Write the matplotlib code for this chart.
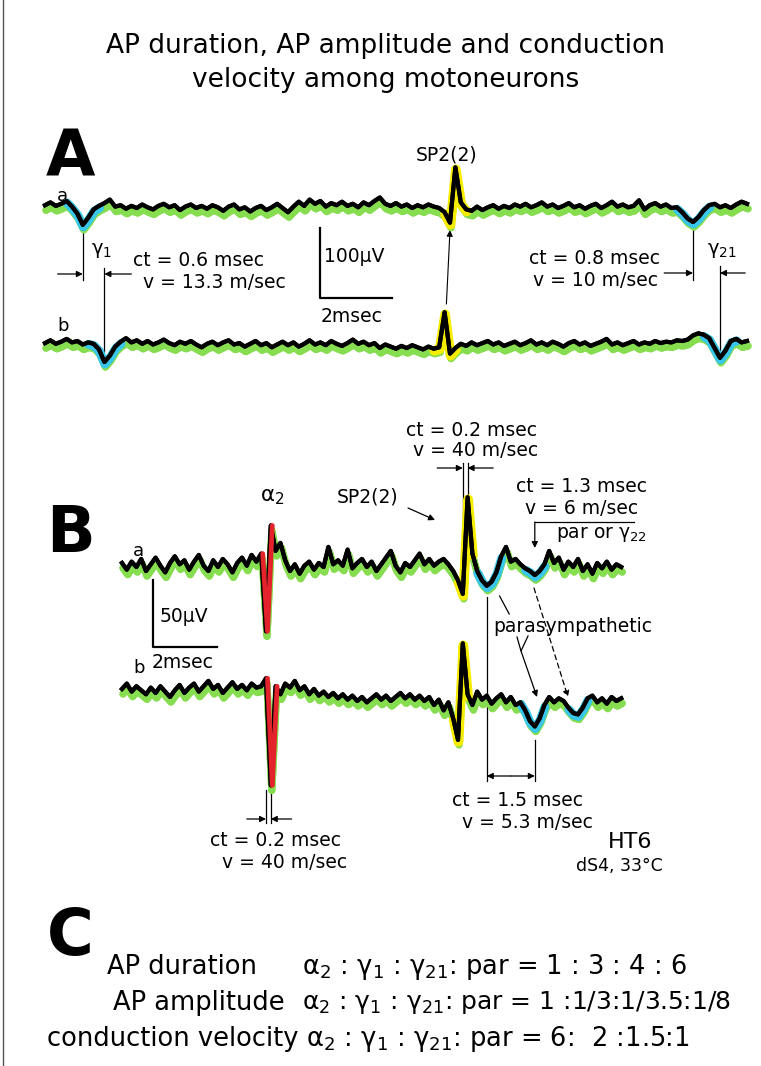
import matplotlib
matplotlib.use("Agg")
import matplotlib.pyplot as plt
import matplotlib.transforms as mtransforms
import numpy as np

W, H = 761, 1066

# ---------------- data ----------------
# panel A: one sample every 0.15 ms, values in uV relative to the trace baseline
a_step = 0.15
A_trace_a = [4, 8, 3, 6, 10, 2, -8, -24, -14, -2,
             3, 7, 12, 2, 4, -1, 3, 0, 5, 1,
             -2, 3, 6, 1, 4, -3, 2, 5, 0, 3,
             -1, 4, 1, -4, 2, 5, -2, 1, -5, 0,
             3, -3, 1, 6, 0, -6, 2, 9, 3, 12,
             6, 10, 2, 7, 4, 9, 3, 6, 1, 8,
             4, 10, 15, 6, 3, 7, 2, 5, 0, 4,
             1, 5, 2, 0, -6, -21, 58, 8, -2, -4,
             2, -3, 1, 4, -1, 3, 0, 5, 2, 6,
             1, 4, 8, 2, 5, 0, 3, 7, 1, 4,
             -1, 3, 6, 0, 4, 9, 2, 5, 1, 3,
             11, -2, 4, 7, 2, 5, 0, 1, -6, -15,
             -20, -13, -3, 4, 6, 1, 4, 0, 5, 9,
             6]
A_trace_b = [3, 7, 2, 5, 9, 4, 6, 1, 4, 2,
             -6, -24, -15, -2, 5, 10, 4, 7, 2, 6,
             1, 4, 8, 3, 0, 5, 2, 6, 1, -3,
             2, 5, 0, 4, 7, 1, 3, -2, 2, 6,
             0, 3, -3, 1, 5, 0, 4, -2, 2, 7,
             1, 4, 0, 6, 2, -1, 3, 8, 2, 5,
             0, 3, -4, 1, -2, -5, -1, -4, 0, -3,
             -6, -2, -5, -3, 47, -12, -4, 2, -1, 4,
             0, 3, 6, 1, 4, -1, 2, 5, 0, 3,
             7, 1, 4, 0, 5, 2, -2, 3, 6, 1,
             4, -1, 2, 5, 9, 1, 4, 0, 3, 6,
             1, 4, 2, 6, 3, 5, 4, 7, 6, 8,
             14, 17, 15, 10, -4, -18, -8, 6, 9, 4,
             6]
# time windows (ms) of the coloured potentials in panel A
A_cyan_a = [(0.6, 1.5), (17.55, 18.45)]
A_cyan_b = [(1.2, 2.1), (18.3, 19.2)]
A_yellow_a = [(11.1, 11.7)]
A_yellow_b = [(10.8, 11.4)]
A_gamma1 = [1.05, 1.65]     # trough times in a and b (ms)
A_gamma21 = [18.0, 18.75]
A_sp2 = [11.4, 11.1]        # spike peak times in a and b

# panel B: one sample every 0.15 ms
b_step = 0.15
B_trace_a = [3, -2, 4, 0, 6, -3, 2, 7, 1, -4,
             3, 8, 2, 5, -2, 4, 9, 1, -3, 5,
             0, 6, 2, -4, 3, 7, 1, 9, 4, 10,
             -48, 31, 12, 18, 5, -3, 2, -5, 1, 4,
             -2, 3, 0, 15, 2, 5, 1, 13, -1, 3,
             6, 0, 4, -3, 2, 7, 12, 1, -4, 3,
             0, 5, 10, 2, 6, 1, 4, 6, 2, -3,
             -10, -20, 52, 10, -3, -10, -14, -11, -4, 8,
             15, 4, 6, 2, -1, -3, -6, -3, 2, 12,
             3, 7, -2, 4, 0, 6, -3, 2, -5, 3,
             -1, 4, -2, 2, 0]
B_trace_b = [2, 6, 0, 4, 1, -2, 3, -1, 4, 0,
             -4, 1, 5, -1, 3, 6, 0, 4, 8, 2,
             5, -1, 3, 7, 2, 5, 1, 6, 3, 4,
             10, -70, 4, -2, 6, 3, 8, 1, 4, -2,
             2, -3, 0, -4, -1, -5, -2, -6, -3, -7,
             -4, -8, -5, -2, -6, -3, -7, -4, -1, -5,
             -2, -6, -3, -7, -4, -10, -6, -14, -8, -20,
             -36, 36, -2, -10, 0, -6, -3, -9, -5, -2,
             -8, -4, -10, -8, -14, -22, -26, -20, -10, -4,
             -8, -5, -7, -12, -16, -17, -12, -5, -3, -8,
             -5, -9, -4, -7, -5]
B_red_a = [(4.35, 4.65)]
B_red_b = [(4.5, 4.8)]
B_yellow_a = [(10.5, 10.95)]
B_yellow_b = [(10.35, 10.8)]
B_cyan_a = [(11.1, 11.85), (12.6, 13.2)]
B_cyan_b = [(12.45, 13.2), (13.95, 14.55)]
B_alpha2 = [4.5, 4.65]      # troughs in a and b
B_sp2 = [10.8, 10.65]       # peaks in a and b
B_par1 = [11.4, 12.9]
B_par2 = [12.9, 14.25]

GREEN = "#86dd4f"
CYAN = "#38c6ea"
YELLOW = "#f6ec00"
RED = "#e3222b"
FONT = "DejaVu Sans"

fig = plt.figure(figsize=(W / 100, H / 100), dpi=100)
fig.patch.set_facecolor("white")

# overlay axes in pixel units for the lettering
ov = fig.add_axes([0, 0, 1, 1])
ov.set_xlim(0, W)
ov.set_ylim(H, 0)
ov.axis("off")


def panel_axes(x0, y0, ms_px, uv_px, top, bottom):
    # axes spanning the figure width, t=0 at pixel x0, 0 uV at pixel y0
    ax = fig.add_axes([0, 1 - bottom / H, 1, (bottom - top) / H])
    ax.set_xlim(-x0 / ms_px, (W - x0) / ms_px)
    ax.set_ylim((y0 - bottom) / uv_px, (y0 - top) / uv_px)
    ax.axis("off")
    ax.patch.set_alpha(0)
    return ax


def draw_trace(ax, step, vals, offset, hl, hl_color, red=None, hl_lw=6.5):
    t = np.arange(len(vals)) * step
    v = np.array(vals, dtype=float) + offset
    shadow = mtransforms.offset_copy(ax.transData, fig=fig, x=1, y=-5, units="dots")
    ax.plot(t, v, color=GREEN, lw=5.2, transform=shadow, solid_capstyle="round", zorder=1)
    low = mtransforms.offset_copy(ax.transData, fig=fig, x=0.5, y=-2, units="dots")
    for lo, hi in hl:
        m = (t >= lo - 1e-9) & (t <= hi + 1e-9)
        ax.plot(t[m], v[m], color=hl_color, lw=hl_lw, transform=low,
                solid_capstyle="round", solid_joinstyle="round", zorder=2)
    ax.plot(t, v, color="black", lw=3.0, solid_joinstyle="round", zorder=3)
    if red:
        rt = mtransforms.offset_copy(ax.transData, fig=fig, x=1.5, y=0, units="dots")
        for lo, hi in red:
            m = (t >= lo - 1e-9) & (t <= hi + 1e-9)
            ax.plot(t[m], v[m], color=RED, lw=3.4, transform=rt,
                    solid_capstyle="round", zorder=4)
    return t, v


def txt(x, y, s, size=13.5, ha="left", **kw):
    ov.text(x, y, s, fontsize=size, ha=ha, va="center", family=FONT, **kw)


def arrow(x1, y1, x2, y2, trans=None, ls="-", lw=0.9):
    ov.annotate("", xy=(x2, y2), xytext=(x1, y1),
                xycoords=trans or ov.transData, textcoords=trans or ov.transData,
                arrowprops=dict(arrowstyle="-|>", lw=lw, color="black", ls=ls,
                                mutation_scale=9, shrinkA=0, shrinkB=0))


def line(xs, ys, trans=None, lw=0.9, ls="-"):
    ov.plot(xs, ys, color="black", lw=lw, ls=ls, transform=trans or ov.transData)


# ---------------- title ----------------
txt(386, 46, "AP duration, AP amplitude and conduction", size=19, ha="center")
txt(386, 80, "velocity among motoneurons", size=19, ha="center")
ov.plot([2.5, 2.5], [0, H], color="#555555", lw=1)

# ---------------- panel A ----------------
axA = panel_axes(45, 208, 36, 0.7, 120, 400)
A_off_b = -196
draw_trace(axA, a_step, A_trace_a, 0, A_cyan_a, CYAN)
draw_trace(axA, a_step, A_trace_a, 0, A_yellow_a, YELLOW, hl_lw=7)
draw_trace(axA, a_step, A_trace_b, A_off_b, A_cyan_b, CYAN)
draw_trace(axA, a_step, A_trace_b, A_off_b, A_yellow_b, YELLOW, hl_lw=7)
# scale bar 2 ms / 100 uV
axA.plot([7.64, 7.64, 9.64], [-28.6, -128.6, -128.6], color="black", lw=1.6)

ov.text(46, 176, "A", fontsize=46, fontweight="bold", family=FONT, ha="left", va="baseline")
txt(57, 196, "a", size=13)
txt(57, 326, "b", size=13)
txt(447, 155, "SP2(2)", size=13.5, ha="center")
txt(324, 257, "100\u00b5V", size=13.5)
txt(321, 316, "2msec", size=13.5)
txt(91, 251, "\u03b3$_1$", size=14)
txt(133, 260, "ct = 0.6 msec", size=13.5)
txt(143, 282, "v = 13.3 m/sec", size=13.5)
txt(660, 258, "ct = 0.8 msec", size=13.5, ha="right")
txt(658, 280, "v = 10 m/sec", size=13.5, ha="right")
txt(707, 250, "\u03b3$_{21}$", size=14)

trA = mtransforms.blended_transform_factory(axA.transData, ov.transData)
line([A_gamma1[0]] * 2, [230, 280], trA)
line([A_gamma1[1]] * 2, [268, 352], trA)
arrow(A_gamma1[0] - 0.7, 274, A_gamma1[0], 274, trA)
arrow(A_gamma1[1] + 0.75, 274, A_gamma1[1], 274, trA)
line([A_gamma21[0]] * 2, [228, 280], trA)
line([A_gamma21[1]] * 2, [266, 350], trA)
arrow(A_gamma21[0] - 0.8, 273, A_gamma21[0], 273, trA)
arrow(A_gamma21[1] + 0.7, 273, A_gamma21[1], 273, trA)
arrow(A_sp2[1] + 0.05, 304, A_sp2[0] - 0.15, 230, trA, lw=0.8)

# ---------------- panel B ----------------
axB = panel_axes(122, 567, 32, 1.34, 400, 900)
B_off_b = -93
draw_trace(axB, b_step, B_trace_a, 0, B_cyan_a, CYAN, red=B_red_a)
draw_trace(axB, b_step, B_trace_a, 0, B_yellow_a, YELLOW, hl_lw=7)
draw_trace(axB, b_step, B_trace_b, B_off_b, B_cyan_b, CYAN, red=B_red_b)
draw_trace(axB, b_step, B_trace_b, B_off_b, B_yellow_b, YELLOW, hl_lw=7)
# scale bar 2 ms / 50 uV
axB.plot([0.97, 0.97, 2.97], [-9.7, -59.7, -59.7], color="black", lw=1.6)

ov.text(46, 552, "B", fontsize=46, fontweight="bold", family=FONT, ha="left", va="baseline")
txt(133, 551, "a", size=13)
txt(133, 668, "b", size=13)
txt(160, 617, "50\u00b5V", size=13.5)
txt(152, 662, "2msec", size=13.5)
txt(272, 497, "\u03b1$_2$", size=15.5, ha="center")
txt(368, 497, "SP2(2)", size=13.5, ha="center")
arrow(408, 508, 435, 520)
txt(471, 430, "ct = 0.2 msec", size=13.5, ha="center")
txt(476, 451, "v = 40 m/sec", size=13.5, ha="center")
txt(582, 487, "ct = 1.3 msec", size=13.5, ha="center")
txt(582, 508, "v = 6 m/sec", size=13.5, ha="center")
txt(556, 535, "par or \u03b3$_{22}$", size=13.5)
txt(493, 626, "parasympathetic", size=13.5)
txt(518, 801, "ct = 1.5 msec", size=13.5, ha="center")
txt(527, 822, "v = 5.3 m/sec", size=13.5, ha="center")
txt(275, 841, "ct = 0.2 msec", size=13.5, ha="center")
txt(285, 863, "v = 40 m/sec", size=13.5, ha="center")
txt(608, 842, "HT6", size=16)
txt(576, 866, "dS4, 33\u00b0C", size=12.5)

trB = mtransforms.blended_transform_factory(axB.transData, ov.transData)
# ct 0.2 ms between the SP2 spikes
line([B_sp2[1]] * 2, [463, 542], trB)
line([B_sp2[0]] * 2, [463, 498], trB)
arrow(B_sp2[1] - 0.8, 468, B_sp2[1], 468, trB)
arrow(B_sp2[0] + 0.8, 468, B_sp2[0], 468, trB)
# par or gamma22 bracket
line([B_par2[0], B_par2[0] + 3.1], [522, 522], trB)
arrow(B_par2[0], 522, B_par2[0], 548, trB)
# parasympathetic pointers
line([B_par1[0], B_par1[0]], [597, 781], trB)
line([B_par1[1], B_par1[1]], [740, 781], trB)
arrow((B_par1[0] + B_par1[1]) / 2, 776, B_par1[0], 776, trB)
arrow((B_par1[0] + B_par1[1]) / 2, 776, B_par1[1], 776, trB)
line([B_par1[0] + 0.4, B_par1[0] + 0.7], [596, 614], trB)
line([517, 521, 528], [637, 651, 636])
arrow(521, 651, 537, 697)
arrow(534, 588, 568, 697, ls=(0, (4, 3)))
# ct 0.2 ms between the alpha2 spikes
line([B_alpha2[0]] * 2, [790, 823], trB)
line([B_alpha2[1]] * 2, [788, 823], trB)
arrow(B_alpha2[0] - 0.6, 819, B_alpha2[0], 819, trB)
arrow(B_alpha2[1] + 0.65, 819, B_alpha2[1], 819, trB)

# ---------------- panel C ----------------
ov.text(47, 955, "C", fontsize=46, fontweight="bold", family=FONT, ha="left", va="baseline")
txt(107, 967, "AP duration", size=18.5)
txt(113, 1003, "AP amplitude", size=18.5)
txt(47, 1039, "conduction velocity", size=18.5)
txt(302, 967, "\u03b1$_2$ : \u03b3$_1$ : \u03b3$_{21}$: par = 1 : 3 : 4 : 6", size=18.5)
txt(302, 1003, "\u03b1$_2$ : \u03b3$_1$ : \u03b3$_{21}$: par = 1 :1/3:1/3.5:1/8", size=18)
txt(306, 1039, "\u03b1$_2$ : \u03b3$_1$ : \u03b3$_{21}$: par = 6:  2 :1.5:1", size=18.5)

fig.savefig("out.png", dpi=100, facecolor="white")
